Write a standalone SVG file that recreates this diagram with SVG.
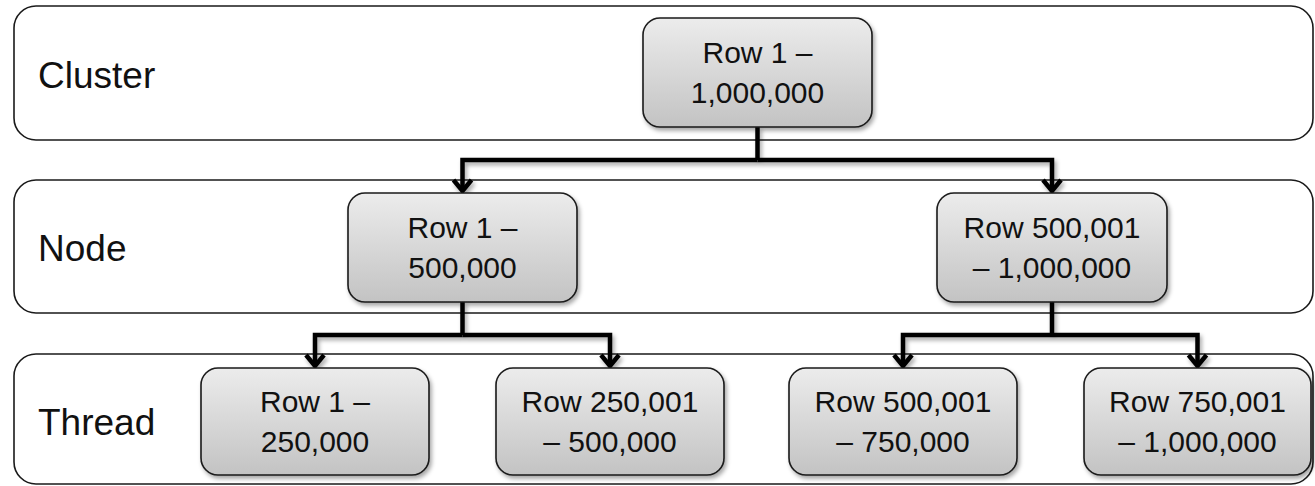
<svg xmlns="http://www.w3.org/2000/svg" width="1315" height="486" viewBox="0 0 1315 486">
  <defs>
    <linearGradient id="boxGrad" x1="0" y1="0" x2="0" y2="1">
      <stop offset="0" stop-color="#ececec"/>
      <stop offset="1" stop-color="#c3c3c3"/>
    </linearGradient>
    <filter id="shadow" x="-10%" y="-10%" width="130%" height="140%">
      <feDropShadow dx="2" dy="3" stdDeviation="2" flood-color="#000" flood-opacity="0.35"/>
    </filter>
    <marker id="arrow" markerUnits="userSpaceOnUse" markerWidth="30" markerHeight="30" viewBox="-15 -15 30 30" refX="0" refY="0" orient="auto" overflow="visible">
      <path d="M-11,-9 L0,0 L-11,9" fill="none" stroke="#000" stroke-width="4.5" stroke-linejoin="miter" stroke-linecap="butt"/>
    </marker>
    <style>
      .band { fill: #fff; stroke: #1a1a1a; stroke-width: 1.6; }
      .label { font-family: "Liberation Sans", Arial, sans-serif; font-size: 37px; fill: #111; }
      .box { fill: url(#boxGrad); stroke: #1a1a1a; stroke-width: 1.6; filter: url(#shadow); }
      .txt { font-family: "Liberation Sans", Arial, sans-serif; font-size: 30px; fill: #111; text-anchor: middle; }
      .conn { fill: none; stroke: #000; stroke-width: 4.5; stroke-linejoin: miter; }
      .arr { marker-end: url(#arrow); }
    </style>
  </defs>

  <g id="band-cluster">
    <rect class="band" x="14" y="6" width="1299" height="134" rx="22"/>
    <text class="label" x="38" y="88">Cluster</text>
  </g>
  <g id="band-node">
    <rect class="band" x="14" y="180" width="1299" height="133" rx="22"/>
    <text class="label" x="38" y="261">Node</text>
  </g>
  <g id="band-thread">
    <rect class="band" x="14" y="354" width="1299" height="130" rx="22"/>
    <text class="label" x="38" y="435">Thread</text>
  </g>

  <g id="connectors" filter="url(#shadow)">
    <path class="conn" d="M757.5,127 V160"/>
    <path class="conn arr" d="M757.5,160 H462.5 V191"/>
    <path class="conn arr" d="M757.5,160 H1052 V191"/>
    <path class="conn" d="M462.5,302 V335"/>
    <path class="conn arr" d="M462.5,335 H315 V366"/>
    <path class="conn arr" d="M462.5,335 H610 V366"/>
    <path class="conn" d="M1052,302 V335"/>
    <path class="conn arr" d="M1052,335 H903 V366"/>
    <path class="conn arr" d="M1052,335 H1197.5 V366"/>
  </g>

  <g id="node-cluster">
    <rect class="box" x="643" y="18" width="229" height="109" rx="17"/>
    <text class="txt" x="757.5" y="63">Row 1 –</text>
    <text class="txt" x="757.5" y="103">1,000,000</text>
  </g>
  <g id="node-left">
    <rect class="box" x="348" y="193" width="229" height="109" rx="17"/>
    <text class="txt" x="462.5" y="238">Row 1 –</text>
    <text class="txt" x="462.5" y="278">500,000</text>
  </g>
  <g id="node-right">
    <rect class="box" x="937" y="193" width="230" height="109" rx="17"/>
    <text class="txt" x="1052" y="238">Row 500,001</text>
    <text class="txt" x="1052" y="278">– 1,000,000</text>
  </g>
  <g id="thread-1">
    <rect class="box" x="201" y="368" width="228" height="107" rx="17"/>
    <text class="txt" x="315" y="412">Row 1 –</text>
    <text class="txt" x="315" y="452">250,000</text>
  </g>
  <g id="thread-2">
    <rect class="box" x="496" y="368" width="228" height="107" rx="17"/>
    <text class="txt" x="610" y="412">Row 250,001</text>
    <text class="txt" x="610" y="452">– 500,000</text>
  </g>
  <g id="thread-3">
    <rect class="box" x="789" y="368" width="228" height="107" rx="17"/>
    <text class="txt" x="903" y="412">Row 500,001</text>
    <text class="txt" x="903" y="452">– 750,000</text>
  </g>
  <g id="thread-4">
    <rect class="box" x="1084" y="368" width="227" height="107" rx="17"/>
    <text class="txt" x="1197.5" y="412">Row 750,001</text>
    <text class="txt" x="1197.5" y="452">– 1,000,000</text>
  </g>
</svg>
